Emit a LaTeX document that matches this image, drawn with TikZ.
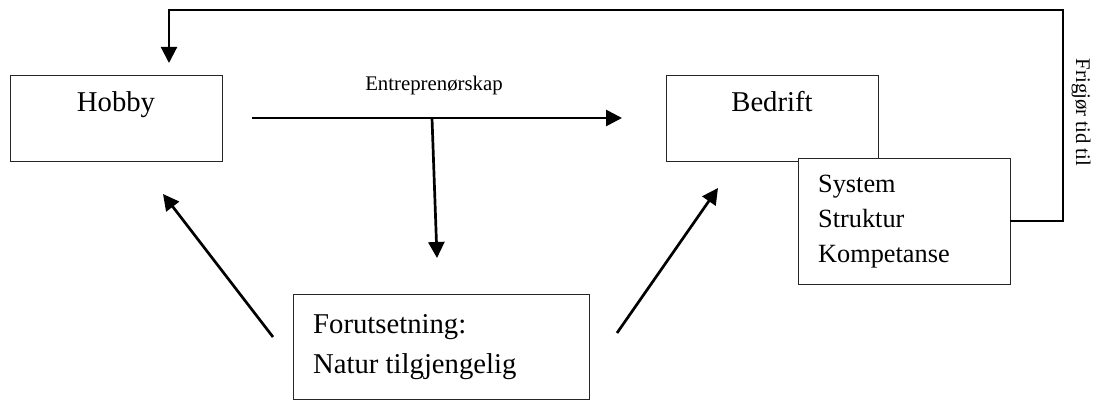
\documentclass[tikz,border=0pt]{standalone}
\usepackage{fontspec}
\setmainfont{Liberation Serif}
\usetikzlibrary{arrows.meta}
\begin{document}
\begin{tikzpicture}[x=1pt,y=-1pt,
  box/.style={draw=black!85,line width=0.9pt,fill=white,inner sep=0pt,outer sep=0pt,anchor=north west},
  big/.style={font=\fontsize{28.7}{34}\selectfont,inner sep=0pt,anchor=base},
  bigl/.style={font=\fontsize{28.7}{34}\selectfont,inner sep=0pt,anchor=base west},
  mid/.style={font=\fontsize{26.3}{32}\selectfont,inner sep=0pt,anchor=base west},
  small/.style={font=\fontsize{20.8}{24}\selectfont,inner sep=0pt},
  arr/.style={line width=2.7pt,-{Triangle[length=16pt,width=16pt]}},
  fbarr/.style={line width=2.1pt,-{Triangle[length=16pt,width=16pt]}},
]
\useasboundingbox (0,0) rectangle (1100,403);
% boxes
\node[box,minimum width=212pt,minimum height=86pt] (hobbybox) at (10,75) {};
\node[box,minimum width=212pt,minimum height=86pt] (bedbox) at (666,75) {};
\node[box,minimum width=212pt,minimum height=126pt] (sysbox) at (798,158) {};
\node[box,minimum width=296pt,minimum height=105pt] (forbox) at (293,294) {};
% texts
\node[big] (hobby) at (116,112) {Hobby};
\node[big] (bedrift) at (772,112) {Bedrift};
\node[mid] (system) at (818,192.5) {System};
\node[mid] (struktur) at (818,228) {Struktur};
\node[mid] (kompetanse) at (818,263) {Kompetanse};
\node[bigl] (forut) at (313,333) {Forutsetning:};
\node[bigl] (natur) at (313,373) {Natur tilgjengelig};
\node[small,anchor=base] (entr) at (434,91) {Entreprenørskap};
\node[small,rotate=-90] (frig) at (1081,112.5) {Frigjør tid til};
% connector end points
\coordinate (hstart) at (252,118);
\coordinate (hend) at (622,118);
\coordinate (vtop) at (432,118);
\coordinate (vend) at (437,258);
\coordinate (lstart) at (273,337);
\coordinate (lend) at (163,194);
\coordinate (rstart) at (617,333);
\coordinate (rend) at (718,188);
\coordinate (fbcorner) at (1063,10);
\coordinate (hobbyin) at (169,63);
% arrows
\draw[arr] (hstart) -- (hend);
\draw[arr] (vtop) -- (vend);
\draw[arr] (lstart) -- (lend);
\draw[arr] (rstart) -- (rend);
\draw[fbarr] (sysbox.east) -- (sysbox.east -| fbcorner) -- (fbcorner) -- (fbcorner -| hobbyin) -- (hobbyin);
\end{tikzpicture}
\end{document}
